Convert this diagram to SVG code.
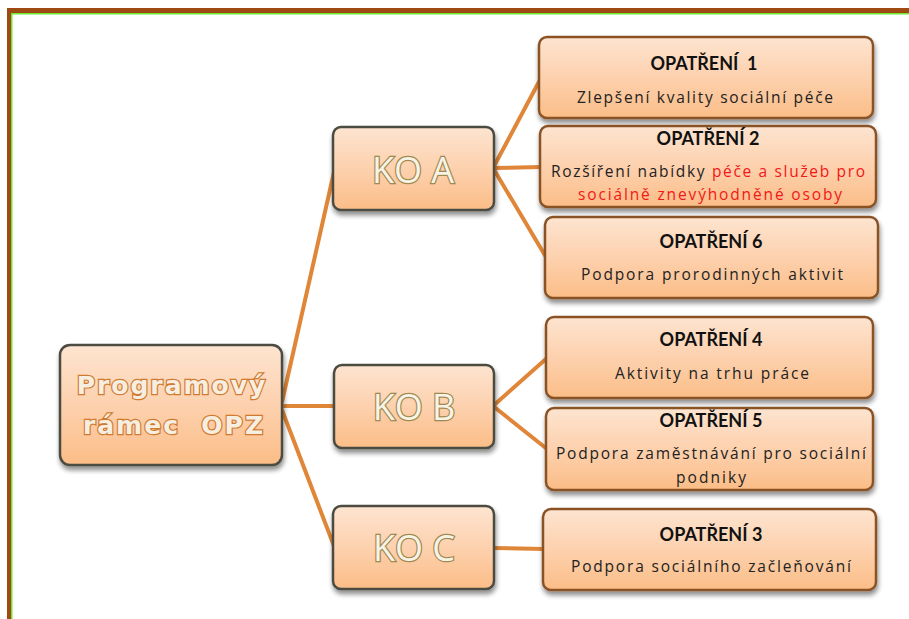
<svg xmlns="http://www.w3.org/2000/svg" width="909" height="619" viewBox="0 0 909 619">
<defs>
<linearGradient id="g" x1="0" y1="0" x2="0" y2="1">
<stop offset="0" stop-color="#FDE4D0"/>
<stop offset="0.5" stop-color="#FDD1AE"/>
<stop offset="1" stop-color="#FBBD87"/>
</linearGradient>
<filter id="sh" x="-10%" y="-10%" width="120%" height="140%">
<feGaussianBlur in="SourceAlpha" stdDeviation="2.5"/>
<feOffset dx="1" dy="4" result="b"/>
<feComponentTransfer><feFuncA type="linear" slope="0.45"/></feComponentTransfer>
<feMerge><feMergeNode/><feMergeNode in="SourceGraphic"/></feMerge>
</filter>
</defs>
<style>
.ko{fill:url(#g);stroke:#4B4B42;stroke-width:2.5;filter:url(#sh)}
.op{fill:url(#g);stroke:#8A5328;stroke-width:2.5;filter:url(#sh)}
.big{font-family:"Open Sans","Liberation Sans",sans-serif;font-size:36px;fill:#F6F4E6;stroke:#A08850;stroke-width:2.4;paint-order:stroke;text-anchor:middle}
.root{font-family:"DejaVu Sans","Liberation Sans",sans-serif;font-weight:bold;font-size:25px;fill:#F6EEE0;stroke:#D07A30;stroke-width:2.4;paint-order:stroke;text-anchor:middle;letter-spacing:2px}
.h{font-family:Lato,"Liberation Sans",sans-serif;font-weight:bold;font-size:18px;fill:#111;text-anchor:middle}
.t{font-family:"Open Sans","Liberation Sans",sans-serif;font-size:15.5px;fill:#222;text-anchor:middle}
.r{fill:#F01818}
.c{stroke:#E08638;stroke-width:4;fill:none;stroke-linecap:round}
</style>
<rect width="909" height="619" fill="#FFFFFF"/>
<g id="frame">
<rect x="7" y="8" width="902" height="5" fill="#9E4A12"/>
<rect x="7" y="8" width="4" height="611" fill="#9E4A12"/>
<rect x="11" y="13" width="898" height="1.5" fill="#6CE830"/>
<rect x="11" y="13" width="1.5" height="606" fill="#6CE830"/>
</g>
<g id="connectors">
<line class="c" x1="282" y1="402" x2="334" y2="172"/>
<line class="c" x1="282" y1="406" x2="334" y2="406"/>
<line class="c" x1="282" y1="410" x2="334" y2="546"/>
<line class="c" x1="493" y1="168" x2="541" y2="78"/>
<line class="c" x1="493" y1="168" x2="541" y2="167"/>
<line class="c" x1="493" y1="168" x2="546" y2="257"/>
<line class="c" x1="493" y1="406" x2="547" y2="358"/>
<line class="c" x1="493" y1="406" x2="547" y2="449"/>
<line class="c" x1="493" y1="548" x2="544" y2="549"/>
</g>
<g id="root">
<rect class="ko" x="60" y="345" width="222" height="120" rx="10"/>
<text class="root" x="172" y="394">Programový</text>
<text class="root" x="174" y="434" xml:space="preserve">rámec  OPZ</text>
</g>
<g id="koa">
<rect class="ko" x="333" y="127" width="161" height="83" rx="8"/>
<text class="big" x="413" y="183">KO A</text>
</g>
<g id="kob">
<rect class="ko" x="334" y="365" width="160" height="83" rx="8"/>
<text class="big" x="414" y="420">KO B</text>
</g>
<g id="koc">
<rect class="ko" x="333" y="506" width="161" height="83" rx="8"/>
<text class="big" x="414" y="561">KO C</text>
</g>
<g id="op1">
<rect class="op" x="539" y="37" width="334" height="81" rx="8"/>
<text class="h" x="704" y="70" xml:space="preserve">OPATŘENÍ  1</text>
<text class="t" x="705" y="103" textLength="256">Zlepšení kvality sociální péče</text>
</g>
<g id="op2">
<rect class="op" x="540" y="126" width="336" height="81" rx="8"/>
<text class="h" x="708" y="145">OPATŘENÍ 2</text>
<text class="t" x="708" y="177" textLength="314">Rozšíření nabídky <tspan class="r">péče a služeb pro</tspan></text>
<text class="t r" x="710" y="200" textLength="264">sociálně znevýhodněné osoby</text>
</g>
<g id="op6">
<rect class="op" x="545" y="217" width="333" height="81" rx="8"/>
<text class="h" x="711" y="248">OPATŘENÍ 6</text>
<text class="t" x="712" y="280" textLength="262">Podpora prorodinných aktivit</text>
</g>
<g id="op4">
<rect class="op" x="546" y="317" width="327" height="81" rx="8"/>
<text class="h" x="711" y="346">OPATŘENÍ 4</text>
<text class="t" x="712" y="379" textLength="194">Aktivity na trhu práce</text>
</g>
<g id="op5">
<rect class="op" x="546" y="408" width="327" height="82" rx="8"/>
<text class="h" x="711" y="427">OPATŘENÍ 5</text>
<text class="t" x="711" y="459" textLength="310">Podpora zaměstnávání pro sociální</text>
<text class="t" x="711" y="483" textLength="70">podniky</text>
</g>
<g id="op3">
<rect class="op" x="543" y="509" width="333" height="81" rx="8"/>
<text class="h" x="711" y="541">OPATŘENÍ 3</text>
<text class="t" x="711" y="572" textLength="280">Podpora sociálního začleňování</text>
</g>
</svg>
